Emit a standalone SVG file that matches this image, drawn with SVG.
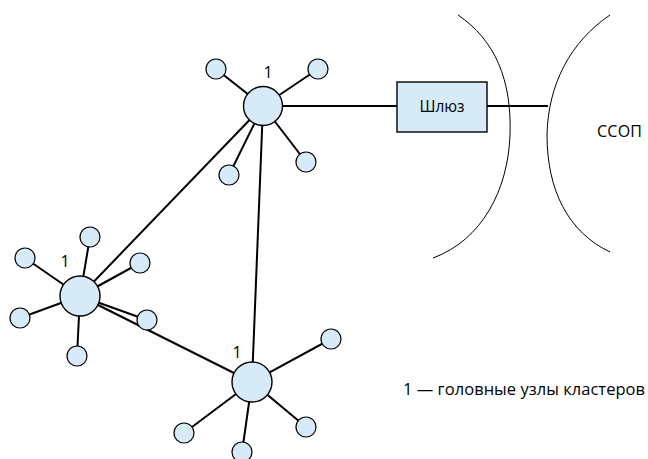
<svg xmlns="http://www.w3.org/2000/svg" width="648" height="459" viewBox="0 0 648 459">
<style>
.ln{stroke:#000;stroke-width:2;fill:none}
.cv{stroke:#000;stroke-width:1;fill:none}
.hub{fill:#d6ebf7;stroke:#000;stroke-width:1.4}
.sat{fill:#d6ebf7;stroke:#000;stroke-width:1.2}
.box{fill:#d6ebf7;stroke:#000;stroke-width:1.4}
text{font-family:"Open Sans","Noto Sans","Liberation Sans",sans-serif;fill:#000}
.lab{font-size:16px}
</style>
<rect width="648" height="459" fill="#fff"/>
<g id="connectors">
<path class="ln" d="M263,106 H397 M487,106 H548"/>
<path class="ln" d="M263,106 L80,296 M263,106 L252,382 M80,296 L252,382"/>
<path class="ln" d="M263,106 L216,69 M263,106 L318,69 M263,106 L229,175 M263,106 L306,162"/>
<path class="ln" d="M80,296 L25,258 M80,296 L90,237 M80,296 L140,263 M80,296 L147,320 M80,296 L20,318 M80,296 L77,356"/>
<path class="ln" d="M252,382 L331,339 M252,382 L306,427 M252,382 L184,433 M252,382 L242,452"/>
</g>
<g id="network-boundary">
<path class="cv" d="M458,15 C495,40 512,80 510,135 C508,190 482,240 433,258"/>
<path class="cv" d="M610,15 C570,42 548,85 547,135 C547,190 568,232 610,252"/>
</g>
<g id="hub-top"><circle class="hub" cx="263" cy="106" r="19.5"/><text class="lab" x="268" y="78" text-anchor="middle">1</text></g>
<g id="sat-top-1"><circle class="sat" cx="216" cy="69" r="10"/></g>
<g id="sat-top-2"><circle class="sat" cx="318" cy="69" r="10"/></g>
<g id="sat-top-3"><circle class="sat" cx="229" cy="175" r="10"/></g>
<g id="sat-top-4"><circle class="sat" cx="306" cy="162" r="10"/></g>
<g id="hub-left"><circle class="hub" cx="80" cy="296" r="20"/><text class="lab" x="65" y="267" text-anchor="middle">1</text></g>
<g id="sat-left-1"><circle class="sat" cx="25" cy="258" r="10"/></g>
<g id="sat-left-2"><circle class="sat" cx="90" cy="237" r="10"/></g>
<g id="sat-left-3"><circle class="sat" cx="140" cy="263" r="10"/></g>
<g id="sat-left-4"><circle class="sat" cx="147" cy="320" r="10"/></g>
<g id="sat-left-5"><circle class="sat" cx="20" cy="318" r="10"/></g>
<g id="sat-left-6"><circle class="sat" cx="77" cy="356" r="10"/></g>
<g id="hub-bottom"><circle class="hub" cx="252" cy="382" r="20"/><text class="lab" x="237" y="358" text-anchor="middle">1</text></g>
<g id="sat-bottom-1"><circle class="sat" cx="331" cy="339" r="10"/></g>
<g id="sat-bottom-2"><circle class="sat" cx="306" cy="427" r="10"/></g>
<g id="sat-bottom-3"><circle class="sat" cx="184" cy="433" r="10"/></g>
<g id="sat-bottom-4"><circle class="sat" cx="242" cy="452" r="10"/></g>
<g id="gateway"><rect class="box" x="397" y="82" width="90" height="50"/><text x="442" y="112" text-anchor="middle" font-size="15.5">Шлюз</text></g>
<g id="pstn"><text x="597" y="137" font-size="16" textLength="45">ССОП</text></g>
<g id="legend"><text x="403" y="395" font-size="16.5" textLength="242">1 — головные узлы кластеров</text></g>
</svg>
